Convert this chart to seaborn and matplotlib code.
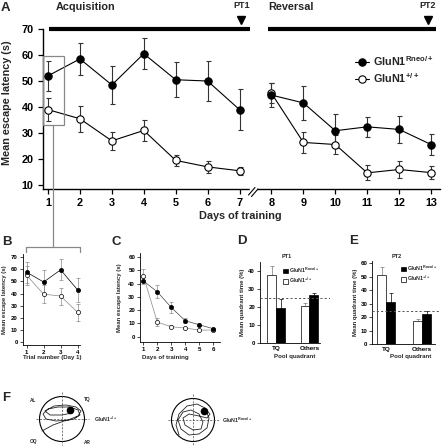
import numpy as np
import pandas as pd
import matplotlib
matplotlib.use("Agg")
import matplotlib.pyplot as plt
from matplotlib.transforms import Affine2D
from matplotlib.patches import Patch, Circle, Rectangle
import seaborn as sns

sns.set_theme(style="ticks")
plt.rcParams["font.family"] = ["Liberation Sans", "DejaVu Sans"]
plt.rcParams["font.weight"] = "bold"
plt.rcParams["axes.labelweight"] = "bold"
plt.rcParams["mathtext.fontset"] = "custom"
plt.rcParams["mathtext.rm"] = "Liberation Sans:bold"
plt.rcParams["mathtext.bf"] = "Liberation Sans:bold"
plt.rcParams["mathtext.it"] = "Liberation Sans:bold"
plt.rcParams["mathtext.default"] = "rm"

LAB_RNEO = "GluN1$^{Rneo/+}$"
LAB_WT = "GluN1$^{+/+}$"

# --- data: panel A (days of training) ---
acq_days = [1, 2, 3, 4, 5, 6, 7]
rev_days = [8, 9, 10, 11, 12, 13]
a_rneo_acq = [52, 58.5, 48.5, 60.5, 50.5, 50, 39]
a_rneo_acq_sem = [5.8, 6, 7.2, 6, 6.8, 7.8, 8]
a_rneo_rev = [44.6, 41.6, 30.9, 32.4, 31.4, 25.6]
a_rneo_rev_sem = [4.6, 6.6, 6.5, 3.8, 5.1, 4.2]
a_wt_acq = [39, 35.5, 27, 31, 19.5, 17, 15.5]
a_wt_acq_sem = [4.3, 5, 3.5, 4, 2, 2.3, 1.5]
a_wt_rev = [45.3, 26.4, 25.6, 14.7, 16.0, 14.8]
a_wt_rev_sem = [3.9, 4.1, 3.8, 2.9, 3.3, 2.5]

# --- panel B (trials of day 1) ---
trials = [1, 2, 3, 4]
b_rneo = [57.5, 49.5, 59.5, 43]
b_rneo_sem = [8.5, 10, 8.5, 10]
b_wt = [55, 39.5, 38, 24.5]
b_wt_sem = [8, 7.5, 7, 7]

# --- panel C ---
c_days = [1, 2, 3, 4, 5, 6]
c_rneo = [42, 33.8, 22, 12, 9, 6]
c_rneo_sem = [2, 5, 4, 2, 1, 0.8]
c_wt = [46, 11, 7.5, 6.5, 5, 5]
c_wt_sem = [5, 3, 1, 1, 1, 1]

# --- panels D / E (probe trials) ---
quadrants = ["TQ", "Others"]
d_wt = [37.5, 20.5]
d_wt_sem = [5, 1.7]
d_rneo = [19.5, 26.5]
d_rneo_sem = [5, 1.5]
e_wt = [51.5, 17]
e_wt_sem = [5.5, 2]
e_rneo = [31, 22.5]
e_rneo_sem = [7, 2.5]
chance = 25

# --- panel F swim paths (pixel offsets from pool centre) ---
f_wt_x = [-20, -9, 2, 12, 18, 16, 8, -4, -14, -19, -16, -6, 6, 16, 19, 14, 4, -8, -17, -12, 0, 10, 8]
f_wt_y = [12, 6, 2, 0, -4, -9, -12, -12, -10, -5, 0, 2, 1, -3, -8, -12, -14, -13, -8, -4, -4, -6, -9]
f_ko_x = [-14, -17, -14, -6, 4, 12, 16, 14, 6, -4, -12, -15, -10, -2, 6, 10, 8, 0, -8, -10, -4, 6, 14, 17, 13, 11]
f_ko_y = [15, 5, -6, -14, -16, -12, -2, 8, 14, 15, 9, 0, -8, -10, -6, 2, 9, 10, 5, -2, -6, -4, -2, -6, -10, -9]

W, H = 442, 448
fig = plt.figure(figsize=(W / 100, H / 100), dpi=100)
PX = Affine2D().scale(1 / W, -1 / H).translate(0, 1) + fig.transFigure


def add_ax(x0, y0, x1, y1):
    ax = fig.add_axes([x0 / W, 1 - y1 / H, (x1 - x0) / W, (y1 - y0) / H])
    sns.despine(ax=ax)
    ax.set_facecolor("none")
    return ax


def draw_series(ax, x, y, err, filled, ms, lw, lc, ec, cap, label=None):
    ax.errorbar(x, y, yerr=err, fmt="none", ecolor=ec, elinewidth=lw,
                capsize=cap, capthick=lw, zorder=2)
    sns.lineplot(x=x, y=y, ax=ax, color=lc, lw=lw, marker="o", markersize=ms,
                 markerfacecolor="black" if filled else "white",
                 markeredgecolor="black", markeredgewidth=lw,
                 errorbar=None, label=label, legend=False, zorder=4 if filled else 3)


def small_style(ax):
    for s in ["left", "bottom"]:
        ax.spines[s].set_linewidth(0.6)
        ax.spines[s].set_color("black")
    ax.tick_params(labelsize=4.4, length=2, width=0.5, pad=1.5, colors="black")


# ---------------- A ----------------
axA = add_ax(43, 23.8, 440, 189)
draw_series(axA, acq_days, a_wt_acq, a_wt_acq_sem, False, 5.3, 0.8, "black", "#333", 1.8, LAB_WT)
draw_series(axA, rev_days, a_wt_rev, a_wt_rev_sem, False, 5.3, 0.8, "black", "#333", 1.8)
draw_series(axA, acq_days, a_rneo_acq, a_rneo_acq_sem, True, 5.3, 0.8, "black", "#333", 1.8, LAB_RNEO)
draw_series(axA, rev_days, a_rneo_rev, a_rneo_rev_sem, True, 5.3, 0.8, "black", "#333", 1.8)
axA.set_xlim(0.843, 13.28)
axA.set_ylim(8.5, 72)
axA.set_xticks(acq_days + rev_days)
axA.set_yticks(range(10, 80, 10))
axA.spines["left"].set_bounds(8.5, 70)
for s in ["left", "bottom"]:
    axA.spines[s].set_linewidth(1.0)
    axA.spines[s].set_color("black")
axA.tick_params(labelsize=7.8, length=3.5, width=0.9, pad=3.2, colors="black")
for t in axA.get_xticklabels() + axA.get_yticklabels():
    t.set_fontweight("bold")
axA.set_xlabel("Days of training", fontsize=7.8, fontweight="bold", va="top")
axA.xaxis.set_label_coords(240, 211, transform=PX)
axA.set_ylabel("Mean escape latency (s)", fontsize=7.8, fontweight="bold")
axA.yaxis.set_label_coords(12, 103, transform=PX)
# phase bars and probe-trial arrows
axA.plot([1.03, 7.33], [70, 70], color="black", lw=3, solid_capstyle="butt", clip_on=False)
axA.plot([7.9, 13.16], [70, 70], color="black", lw=3, solid_capstyle="butt", clip_on=False)
axA.plot([7.05, 12.9], [73.6, 73.6], ls="none", marker="v", ms=5.5, color="black", clip_on=False)
h, l = axA.get_legend_handles_labels()
axA.legend(h[::-1], l[::-1], loc="upper left", bbox_to_anchor=(355, 54), bbox_transform=PX,
           frameon=False, fontsize=7.8, handlelength=1.3, handletextpad=0.4,
           labelspacing=0.3, borderpad=0, borderaxespad=0)

# ---------------- B ----------------
axB = add_ax(22.7, 254, 80, 345)
draw_series(axB, trials, b_wt, b_wt_sem, False, 3, 0.5, "#888", "#888", 1.2)
draw_series(axB, trials, b_rneo, b_rneo_sem, True, 3, 0.5, "black", "#888", 1.2)
axB.set_xlim(0.765, 4.14)
axB.set_ylim(-2.2, 72.5)
axB.set_xticks(trials)
axB.set_yticks(range(0, 80, 10))
small_style(axB)
axB.set_xlabel("Trial number (Day 1)", fontsize=4.4, va="top")
axB.xaxis.set_label_coords(52, 355, transform=PX)
axB.set_ylabel("Mean escape latency (s)", fontsize=4.3)
axB.yaxis.set_label_coords(7, 300, transform=PX)

# ---------------- C ----------------
axC = add_ax(140, 253, 220, 342.3)
draw_series(axC, c_days, c_wt, c_wt_sem, False, 3, 0.5, "#888", "#888", 1.2)
draw_series(axC, c_days, c_rneo, c_rneo_sem, True, 3, 0.5, "#444", "#888", 1.2)
axC.set_xlim(0.764, 6.48)
axC.set_ylim(-4.2, 63)
axC.set_xticks(c_days)
axC.set_yticks(range(0, 70, 10))
small_style(axC)
axC.set_xlabel("Days of training", fontsize=4.4, va="top")
axC.xaxis.set_label_coords(165, 355, transform=PX)
axC.set_ylabel("Mean escape latency (s)", fontsize=4.3)
axC.yaxis.set_label_coords(122, 298, transform=PX)


# ---------------- D / E ----------------
def probe_panel(box, wt, wt_sem, rneo, rneo_sem, ylim, yticks, xlim, xend, width,
                title, title_xy, lab_x, ylab_x, leg_xy):
    ax = add_ax(*box)
    df = pd.DataFrame({
        "quadrant": quadrants * 2,
        "genotype": ["wt"] * 2 + ["rneo"] * 2,
        "value": wt + rneo,
    })
    sns.barplot(data=df, x="quadrant", y="value", hue="genotype", order=quadrants,
                hue_order=["wt", "rneo"], palette={"wt": "white", "rneo": "black"},
                edgecolor="black", linewidth=0.5, errorbar=None, width=width,
                legend=False, ax=ax, zorder=2)
    sems = wt_sem + rneo_sem
    for p, e, col in zip(ax.patches, sems, ["#777", "#777", "black", "black"]):
        ax.errorbar(p.get_x() + p.get_width() / 2, p.get_height(), yerr=e, fmt="none",
                    ecolor=col, elinewidth=0.5, capsize=1.2, capthick=0.5, zorder=1)
    ax.axhline(chance, color="#555", lw=0.7, ls=(0, (2.2, 2.2)), zorder=3)
    ax.set_ylim(*ylim)
    ax.set_yticks(yticks)
    ax.set_xlim(*xlim)
    ax.spines["bottom"].set_bounds(xlim[0], xend)
    small_style(ax)
    ax.tick_params(axis="x", length=0, labelsize=4.5, pad=2)
    ax.set_xlabel("Pool quadrant", fontsize=4.4, va="top")
    ax.xaxis.set_label_coords(lab_x, 354, transform=PX)
    ax.set_ylabel("Mean quadrant time (%)", fontsize=4.3)
    ax.yaxis.set_label_coords(ylab_x, 302, transform=PX)
    fig.text(title_xy[0], title_xy[1], title, transform=PX, fontsize=4,
             fontweight="bold", ha="center", va="center")
    handles = [Patch(facecolor="black", edgecolor="black", lw=0.5),
               Patch(facecolor="white", edgecolor="black", lw=0.5)]
    ax.legend(handles, [LAB_RNEO, LAB_WT], loc="upper left", bbox_to_anchor=leg_xy,
              bbox_transform=PX, frameon=False, fontsize=3.8, handlelength=0.9,
              handleheight=0.9, handletextpad=0.3, labelspacing=0.15,
              borderpad=0, borderaxespad=0)
    return ax


axD = probe_panel((260, 261.7, 330, 343.3), d_wt, d_wt_sem, d_rneo, d_rneo_sem,
                  (0, 45), range(0, 50, 10), (-0.49, 1.62), 1.32, 0.53,
                  "PT1", (287, 256), 295, 245, (283, 266))
axE = probe_panel((372.3, 261, 441, 344.3), e_wt, e_wt_sem, e_rneo, e_rneo_sem,
                  (0, 61.7), range(0, 70, 10), (-0.38, 1.52), 1.36, 0.5,
                  "PT2", (397, 257), 411, 358, (401, 264))

# ---------------- overlay (labels, zoom bracket, panel F) ----------------
ov = fig.add_axes([0, 0, 1, 1])
ov.set_xlim(0, W)
ov.set_ylim(H, 0)
ov.axis("off")
ov.set_facecolor("none")

for letter, x, y in [("A", 5, 8), ("B", 7, 242), ("C", 116, 242), ("D", 242, 241),
                     ("E", 354, 241), ("F", 6, 398)]:
    ov.text(x, y, letter, fontsize=9.5, fontweight="bold", ha="center", va="center")

ov.text(86, 7, "Acquisition", fontsize=7.8, fontweight="bold", ha="center", va="center")
ov.text(291, 7, "Reversal", fontsize=7.8, fontweight="bold", ha="center", va="center")
ov.text(242, 6, "PT1", fontsize=6.5, fontweight="bold", ha="center", va="center")
ov.text(428, 6, "PT2", fontsize=6.5, fontweight="bold", ha="center", va="center")

# axis break marks
ov.add_patch(Rectangle((250, 186), 6, 6, color="white", zorder=5))
ov.plot([248.5, 255], [195, 187.5], color="black", lw=0.8, zorder=6)
ov.plot([251.5, 258], [196.5, 189], color="black", lw=0.8, zorder=6)

# zoom box on day 1 and bracket to panel B
ov.add_patch(Rectangle((43, 56), 21, 69, fill=False, ec="#888", lw=0.9))
ov.plot([53, 53], [125, 247], color="#888", lw=0.9)
ov.plot([26, 26, 80, 80], [252, 247, 247, 252], color="#888", lw=0.9)

# panel F: pools with swim paths
pools = [(62, 419, 22.5, f_wt_x, f_wt_y, LAB_WT, 94),
         (193, 420, 21.5, f_ko_x, f_ko_y, LAB_RNEO, 222)]
for cx, cy, r, px_, py_, lab, lx in pools:
    ov.add_patch(Circle((cx, cy), r, fill=False, ec="black", lw=0.8))
    ov.plot([cx, cx], [cy - r - 4, cy + r + 4], color="#444", lw=0.5, ls=(0, (3, 2)))
    ov.plot([cx - r - 4, cx + r + 4], [cy, cy], color="#444", lw=0.5, ls=(0, (3, 2)))
    ov.plot(np.array(px_) + cx, np.array(py_) + cy, color="#222", lw=0.6)
    ov.plot(cx + px_[-1], cy + py_[-1], "o", color="black", ms=4.5)
    ov.text(lx, cy, lab, fontsize=3.8, fontweight="bold", ha="left", va="center")

for q, x, y in [("AL", 33, 400), ("TQ", 87, 400), ("OQ", 33, 442), ("AR", 87, 442)]:
    ov.text(x, y, q, fontsize=3.4, fontweight="bold", ha="center", va="center")

fig.savefig("out.png", dpi=100)
